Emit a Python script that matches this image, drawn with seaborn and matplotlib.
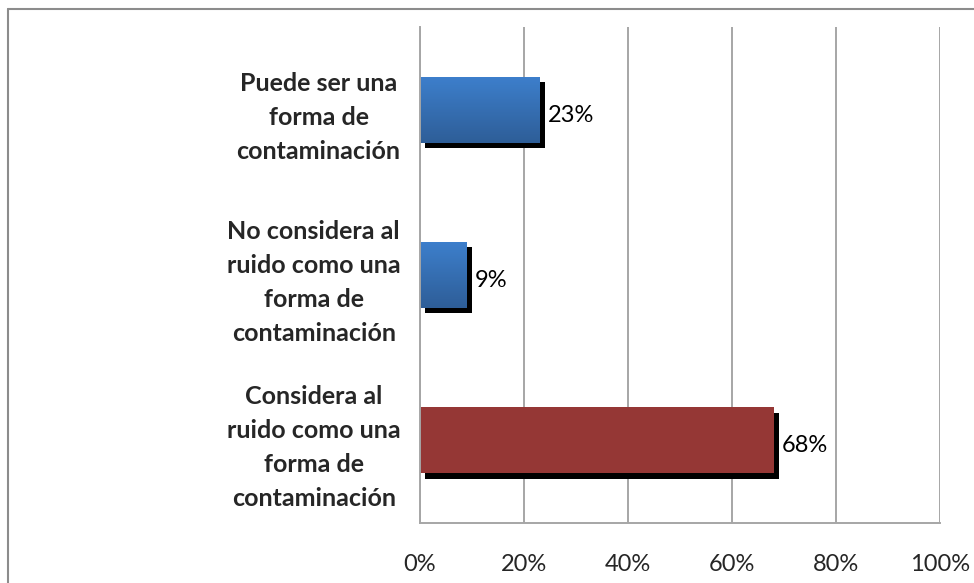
import numpy as np
import pandas as pd
import matplotlib
matplotlib.use("Agg")
import matplotlib.pyplot as plt
import matplotlib.patheffects as pe
from matplotlib.lines import Line2D
from matplotlib.colors import LinearSegmentedColormap
from matplotlib.ticker import FixedLocator, PercentFormatter
import seaborn as sns

# data
categories = [
    "Puede ser una\nforma de\ncontaminación",
    "No considera al\nruido como una\nforma de\ncontaminación",
    "Considera al\nruido como una\nforma de\ncontaminación",
]
values = [0.23, 0.09, 0.68]
bar_colors = ["#3a78c2", "#3a78c2", "#953735"]
x_ticks = [0, 0.2, 0.4, 0.6, 0.8, 1.0]

df = pd.DataFrame({"respuesta": categories, "pct": values})

sns.set_style("white")
plt.rcParams["font.family"] = ["Lato", "DejaVu Sans"]

fig = plt.figure(figsize=(9.74, 5.83), dpi=100)
ax = fig.add_axes([420 / 974, 1 - 523 / 583, 520 / 974, 496 / 583])

sns.barplot(data=df, x="pct", y="respuesta", hue="respuesta",
            palette=bar_colors, legend=False, width=0.4, orient="h",
            saturation=1, ax=ax)

ax.set_xlim(0, 1)
ax.set_ylim(2.5, -0.5)

# black drop shadow + gradient fill on the blue bars
blue_grad = LinearSegmentedColormap.from_list("blue", ["#3d7fcc", "#2e5e98"])
for i, cont in enumerate(ax.containers):
    for patch in cont:
        patch.set_linewidth(0)
        patch.set_path_effects([
            pe.SimplePatchShadow(offset=(3.8, -3.8), shadow_rgbFace="black", alpha=1.0),
            pe.Normal()])
        if patch.get_facecolor()[2] > 0.5:
            x0, y0 = patch.get_x(), patch.get_y()
            w, h = patch.get_width(), patch.get_height()
            img = ax.imshow(np.linspace(0, 1, 64).reshape(-1, 1), cmap=blue_grad,
                            extent=(x0, x0 + w, y0 + h, y0), aspect="auto",
                            zorder=patch.get_zorder() + 0.1)
            img.set_clip_path(patch)
    labels = ax.bar_label(cont, labels=[f"{v * 100:.0f}%" for v in cont.datavalues],
                          padding=6, fontsize=17, color="black")
    for t in labels:
        t.set_position((6, -4))

ax.set_xlim(0, 1)
ax.set_ylim(2.5, -0.5)

# axes styling
grid_c = "#a6a6a6"
ax.set_axisbelow(True)
ax.xaxis.set_major_locator(FixedLocator(x_ticks))
ax.xaxis.set_major_formatter(PercentFormatter(1.0, decimals=0))
ax.grid(axis="x", color=grid_c, linewidth=1.4)
ax.grid(axis="y", visible=False)
for side in ["top", "right"]:
    ax.spines[side].set_visible(False)
for side in ["left", "bottom"]:
    ax.spines[side].set_color(grid_c)
    ax.spines[side].set_linewidth(1.4)

ax.tick_params(axis="x", which="major", length=6, width=1.4, color=grid_c,
               direction="out", labelsize=17, pad=16)
ax.yaxis.set_minor_locator(FixedLocator([-0.5, 0.5, 1.5, 2.5]))
ax.tick_params(axis="y", which="minor", length=6, width=1.4, color=grid_c, direction="out")
ax.tick_params(axis="y", which="major", length=0, pad=14)
for lab in ax.get_yticklabels():
    lab.set_fontsize(18)
    lab.set_fontweight("bold")
    lab.set_multialignment("center")
    lab.set_linespacing(1.58)

ax.set_xlabel("")
ax.set_ylabel("")

# outer chart border (left and top edges visible)
fig.add_artist(Line2D([7.5 / 974, 7.5 / 974], [0, 1 - 8.5 / 583],
                      transform=fig.transFigure, color="#8c8c8c", linewidth=1.5))
fig.add_artist(Line2D([7.5 / 974, 1], [1 - 8.5 / 583, 1 - 8.5 / 583],
                      transform=fig.transFigure, color="#8c8c8c", linewidth=1.5))

fig.savefig("out.png", dpi=100)
